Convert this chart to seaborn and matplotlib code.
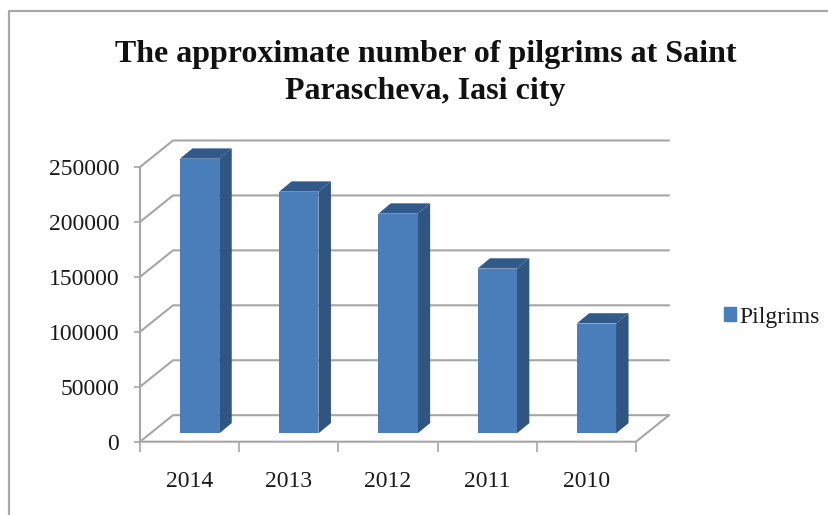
import matplotlib
matplotlib.use("Agg")
import matplotlib.pyplot as plt
from matplotlib.lines import Line2D
from matplotlib.transforms import Affine2D
import pandas as pd
import seaborn as sns

# chart values
years = ["2014", "2013", "2012", "2011", "2010"]
pilgrims = [250000, 220000, 200000, 150000, 100000]
y_ticks = [0, 50000, 100000, 150000, 200000, 250000]
title = "The approximate number of pilgrims at Saint\nParascheva, Iasi city"

W, H = 829, 515
grid_col = "#a6a6a6"
front_col = "#4a7ebb"
side_col = "#2f5583"
top_col = "#31598a"

sns.set_theme(style="white")
plt.rcParams["font.family"] = ["Liberation Serif", "DejaVu Serif"]

fig = plt.figure(figsize=(W / 100, H / 100), dpi=100, facecolor="white")

# front plane of the fake 3d box, in pixels
left, right, bottom, top = 140, 636, 441.7, 167
ax = fig.add_axes([left / W, 1 - bottom / H, (right - left) / W, (bottom - top) / H])

df = pd.DataFrame({"year": years, "Pilgrims": pilgrims})
sns.barplot(data=df, x="year", y="Pilgrims", color=front_col, saturation=1,
            width=0.396, ax=ax, zorder=5, linewidth=0)
ax.set_xlim(-0.5, 4.5)
ax.set_ylim(0, 250000)
ax.patch.set_alpha(0)
sns.despine(ax=ax, left=True, bottom=True, top=True, right=True)

# pixels -> data units
ux = 5 / (right - left)
uy = 250000 / (bottom - top)
wall_dx, wall_dy = 33 * ux, 26.5 * uy
gap_dx, gap_dy = 10 * ux, 8.3 * uy
depth_dx, depth_dy = 12.5 * ux, 10.3 * uy

# back wall gridlines and the floor
x0, x1 = -0.5, 4.5
for v in y_ticks:
    ax.plot([x0, x0 + wall_dx, x1 + wall_dx], [v, v + wall_dy, v + wall_dy],
            color=grid_col, lw=1.5, clip_on=False, zorder=1)
ax.plot([x0, x1, x1 + wall_dx], [0, 0, wall_dy], color=grid_col, lw=1.5, clip_on=False, zorder=1)
ax.plot([x0, x0], [0, 250000], color=grid_col, lw=1.5, clip_on=False, zorder=1)

# bars: move the front faces off the axis and add the side and top faces
shift = Affine2D().translate(gap_dx, gap_dy) + ax.transData
for bar, v in zip(ax.patches, pilgrims):
    bar.set_transform(shift)
    bar.set_clip_on(False)
    xa = bar.get_x()
    xb = xa + bar.get_width()
    ax.fill([xb, xb + depth_dx, xb + depth_dx, xb], [0, depth_dy, v + depth_dy, v],
            color=side_col, lw=0, transform=shift, clip_on=False, zorder=4)
    ax.fill([xa, xa + depth_dx, xb + depth_dx, xb], [v, v + depth_dy, v + depth_dy, v],
            color=top_col, lw=0, transform=shift, clip_on=False, zorder=4)

ax.set_xlabel("")
ax.set_ylabel("")
ax.set_yticks(y_ticks)
ax.set_yticklabels([str(v) for v in y_ticks], fontsize=17, color="#1a1a1a")
ax.set_xticks([i - 0.5 for i in range(6)], minor=True)
ax.set_xticks(range(5))
ax.set_xticklabels(years, fontsize=17, color="#1a1a1a")
ax.tick_params(axis="y", which="major", left=True, length=4, width=1.2, color=grid_col, pad=11)
ax.tick_params(axis="x", which="minor", bottom=True, length=7, width=1.2, color=grid_col)
ax.tick_params(axis="x", which="major", bottom=False, pad=15)

fig.text(425.5 / W, 1 - 73 / H, title, ha="center", va="center", fontsize=23,
         fontweight="bold", color="#111111", linespacing=1.35)

# legend
legend_bar = plt.Rectangle((0, 0), 1, 1, color=front_col)
fig.legend([legend_bar], ["Pilgrims"], loc="center left", bbox_to_anchor=(724 / W, 1 - 317 / H),
           frameon=False, fontsize=17, handlelength=0.5, handleheight=0.5, handletextpad=0.17,
           borderpad=0, borderaxespad=0, labelcolor="#1a1a1a")

# outer chart frame, cut off at the image edge
fig.add_artist(Line2D([9 / W, 9 / W, 1], [0, 1 - 11 / H, 1 - 11 / H], color="#a8a8a8", lw=1.6))

fig.savefig("out.png", dpi=100)
